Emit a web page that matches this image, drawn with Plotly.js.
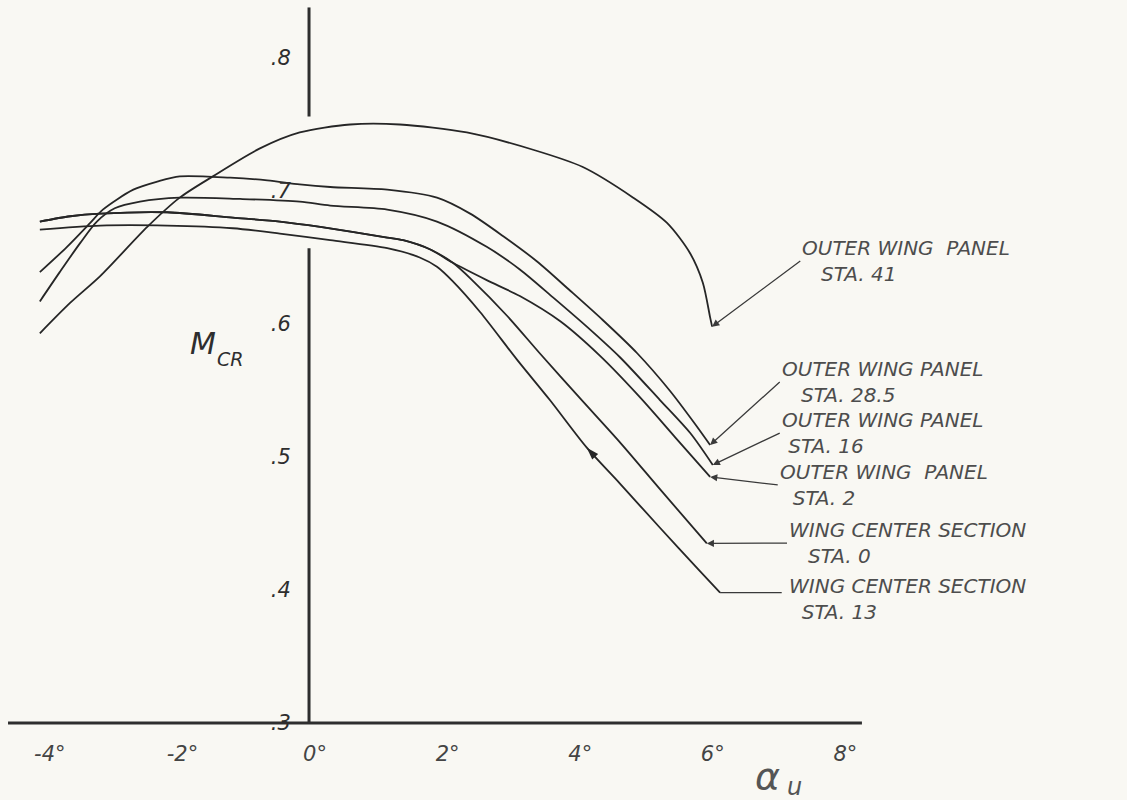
<!DOCTYPE html>
<html>
<head>
<meta charset="utf-8">
<script src="https://cdn.plot.ly/plotly-3.0.1.min.js"></script>
<style>
  html, body { margin: 0; padding: 0; background: #f9f8f3; }
  #chart { width: 1127px; height: 800px; }
</style>
</head>
<body>
<div id="chart"></div>
<script>
// ---- Data (alpha_u in degrees, M_CR) ----
const sta41_x  = [-4.06, -3.60, -3.15, -2.44, -1.95, -1.45, -0.74, -0.14, 0.62, 1.37, 2.38, 3.38, 4.13, 4.89, 5.40, 5.75, 5.94, 6.05, 6.08];
const sta41_y  = [0.593, 0.616, 0.636, 0.673, 0.695, 0.711, 0.732, 0.744, 0.750, 0.750, 0.744, 0.731, 0.718, 0.695, 0.676, 0.653, 0.631, 0.605, 0.598];

const sta285_x = [-4.06, -3.65, -3.30, -3.11, -2.65, -2.29, -1.95, -1.19, -0.63, -0.14, 0.32, 1.18, 1.93, 2.43, 2.93, 3.44, 3.94, 4.43, 4.95, 5.44, 5.82, 6.05];
const sta285_y = [0.639, 0.658, 0.676, 0.686, 0.701, 0.707, 0.711, 0.710, 0.708, 0.705, 0.703, 0.701, 0.695, 0.683, 0.666, 0.647, 0.625, 0.603, 0.578, 0.550, 0.525, 0.509];

const sta16_x  = [-4.06, -3.76, -3.45, -3.20, -2.93, -2.55, -1.95, -1.04, -0.14, 0.32, 1.18, 1.93, 2.68, 3.18, 3.68, 4.19, 4.69, 5.29, 5.75, 6.09];
const sta16_y  = [0.617, 0.639, 0.661, 0.677, 0.687, 0.692, 0.695, 0.694, 0.692, 0.689, 0.686, 0.677, 0.658, 0.641, 0.620, 0.598, 0.575, 0.543, 0.518, 0.494];

const sta2_x   = [-4.06, -3.60, -3.15, -2.14, -1.15, -0.44, 0.17, 1.18, 1.42, 1.83, 2.17, 2.68, 3.18, 3.79, 4.39, 4.99, 5.52, 6.05];
const sta2_y   = [0.677, 0.681, 0.683, 0.684, 0.680, 0.677, 0.673, 0.665, 0.663, 0.656, 0.646, 0.633, 0.621, 0.602, 0.576, 0.545, 0.515, 0.485];

const sta0_x   = [-4.06, -3.60, -3.15, -2.14, -1.15, -0.44, 0.17, 1.18, 1.42, 1.83, 2.17, 2.46, 2.99, 3.48, 4.09, 4.69, 5.29, 6.00];
const sta0_y   = [0.677, 0.681, 0.683, 0.684, 0.680, 0.677, 0.673, 0.665, 0.663, 0.656, 0.646, 0.633, 0.606, 0.578, 0.544, 0.511, 0.476, 0.435];

const sta13_x  = [-4.06, -3.15, -2.14, -1.15, -0.44, 0.32, 1.18, 1.67, 1.93, 2.17, 2.58, 3.14, 3.63, 4.19, 4.69, 5.29, 5.90, 6.20];
const sta13_y  = [0.671, 0.674, 0.674, 0.672, 0.668, 0.663, 0.657, 0.650, 0.643, 0.632, 0.609, 0.573, 0.543, 0.507, 0.480, 0.447, 0.414, 0.398];

const seriesNames = ['OUTER WING PANEL STA. 41', 'OUTER WING PANEL STA. 28.5', 'OUTER WING PANEL STA. 16',
                     'OUTER WING PANEL STA. 2', 'WING CENTER SECTION STA. 0', 'WING CENTER SECTION STA. 13'];
const labelLine1 = ['OUTER WING  PANEL', 'OUTER WING PANEL', 'OUTER WING PANEL', 'OUTER WING  PANEL', 'WING CENTER SECTION', 'WING CENTER SECTION'];
const labelLine2 = ['STA. 41', 'STA. 28.5', 'STA. 16', 'STA. 2', 'STA. 0', 'STA. 13'];

const xTickVals = [-4, -2, 0, 2, 4, 6, 8];
const xTickText = ['-4°', '-2°', '0°', '2°', '4°', '6°', '8°'];
const yTickVals = [0.3, 0.4, 0.5, 0.6, 0.7, 0.8];
const yTickText = ['.3', '.4', '.5', '.6', '.7', '.8'];

// ---- Styling ----
const INK = '#262626';
const TXT = '#4d4d4d';
const LEAD = '#3a3a3a';
const FONT = 'DejaVu Sans, Liberation Sans, sans-serif';
const X_RANGE = [-4.661, 12.338];
const Y_RANGE = [0.2421, 0.8436];
const W = 1127, H = 800;

const xs = [sta41_x, sta285_x, sta16_x, sta2_x, sta0_x, sta13_x];
const ys = [sta41_y, sta285_y, sta16_y, sta2_y, sta0_y, sta13_y];

const traces = xs.map((x, i) => ({
  type: 'scatter', mode: 'lines', name: seriesNames[i],
  x: x, y: ys[i],
  line: { color: INK, width: 1.8, shape: 'spline', smoothing: 0.8 },
  hoverinfo: 'x+y+name'
}));

// direction arrow drawn on the STA. 13 curve (between two of its points)
const pxPerX = W / (X_RANGE[1] - X_RANGE[0]);
const pxPerY = H / (Y_RANGE[1] - Y_RANGE[0]);
const dxp = (sta13_x[13] - sta13_x[14]) * pxPerX;
const dyp = (sta13_y[13] - sta13_y[14]) * pxPerY;
const arrAngle = Math.atan2(dxp, dyp) * 180 / Math.PI;
traces.push({
  type: 'scatter', mode: 'markers', x: [sta13_x[13]], y: [sta13_y[13]], showlegend: false, hoverinfo: 'skip',
  marker: { symbol: 'arrow', size: 13, angle: arrAngle, color: INK, line: { width: 0 } }
});

const last = i => [xs[i][xs[i].length - 1], ys[i][ys[i].length - 1]];

// label blocks: [left x, middle y] in data coords; second-line indent in spaces
const labelPos = [[7.41, 0.6474], [7.10, 0.5564], [7.10, 0.5180], [7.07, 0.4790], [7.21, 0.4353], [7.21, 0.3932]];
const indent   = [3, 3, 1, 2, 3, 2];
const hasArrow = [true, true, true, true, true, false];

const NB = '\u00a0';
const annotations = [];
for (let i = 0; i < 6; i++) {
  const txt = labelLine1[i] + '<br>' + NB.repeat(indent[i]) + labelLine2[i];
  const a = {
    text: txt, align: 'left', xanchor: 'left', yanchor: 'middle',
    font: { family: FONT, size: 20, color: TXT, style: 'italic' }
  };
  if (hasArrow[i]) {
    const tip = last(i);
    Object.assign(a, { x: tip[0], y: tip[1], xref: 'x', yref: 'y',
      ax: labelPos[i][0], ay: labelPos[i][1], axref: 'x', ayref: 'y',
      showarrow: true, arrowhead: 2, arrowsize: 1.1, arrowwidth: 1.3, arrowcolor: LEAD, standoff: 0 });
  } else {
    Object.assign(a, { x: labelPos[i][0], y: labelPos[i][1], xref: 'x', yref: 'y', showarrow: false });
  }
  annotations.push(a);
}

// axis titles (main letter + subscript drawn as separate texts)
annotations.push({ x: -1.60, y: 0.5850, xref: 'x', yref: 'y', text: 'M', showarrow: false,
  font: { family: FONT, size: 30, color: '#2e2e2e', style: 'italic' } });
annotations.push({ x: -1.19, y: 0.5740, xref: 'x', yref: 'y', text: 'CR', showarrow: false,
  font: { family: FONT, size: 19, color: '#2e2e2e', style: 'italic' } });
annotations.push({ x: 6.92, y: 0.2600, xref: 'x', yref: 'y', text: 'α', showarrow: false,
  font: { family: FONT, size: 38, color: '#555', style: 'italic' } });
annotations.push({ x: 7.33, y: 0.2518, xref: 'x', yref: 'y', text: 'u', showarrow: false,
  font: { family: FONT, size: 24, color: '#555', style: 'italic' } });

const axW = 3, axC = '#2e2e2e';
const shapes = [
  // x axis line
  { type: 'line', xref: 'x', yref: 'y', x0: -4.54, x1: 8.34, y0: 0.3, y1: 0.3, line: { color: axC, width: axW } },
  // y axis line (broken where the curves cross it)
  { type: 'line', xref: 'x', yref: 'y', x0: 0, x1: 0, y0: 0.3, y1: 0.657, line: { color: axC, width: axW } },
  { type: 'line', xref: 'x', yref: 'y', x0: 0, x1: 0, y0: 0.756, y1: 0.838, line: { color: axC, width: axW } },
  // leader line of STA. 13
  { type: 'line', xref: 'x', yref: 'y', x0: last(5)[0], x1: 7.13, y0: last(5)[1], y1: last(5)[1], line: { color: LEAD, width: 1.3 } }
];

const layout = {
  width: W, height: H,
  margin: { l: 0, r: 0, t: 0, b: 0 },
  paper_bgcolor: '#f9f8f3', plot_bgcolor: '#f9f8f3',
  showlegend: false,
  xaxis: {
    range: X_RANGE, anchor: 'free', position: 0.09625,
    showgrid: false, zeroline: false, showline: false,
    tickvals: xTickVals, ticktext: xTickText,
    ticks: 'outside', ticklen: 12, tickcolor: 'rgba(0,0,0,0)', ticklabelshift: 6,
    tickfont: { family: FONT, size: 21, color: '#444', style: 'italic' }
  },
  yaxis: {
    range: Y_RANGE, anchor: 'free', position: 0.2742,
    showgrid: false, zeroline: false, showline: false,
    tickvals: yTickVals, ticktext: yTickText,
    ticks: 'outside', ticklen: 14, tickcolor: 'rgba(0,0,0,0)',
    tickfont: { family: FONT, size: 21, color: '#2e2e2e', style: 'italic' }
  },
  shapes: shapes,
  annotations: annotations
};

Plotly.newPlot('chart', traces, layout, { displayModeBar: false, staticPlot: true });
</script>
</body>
</html>
